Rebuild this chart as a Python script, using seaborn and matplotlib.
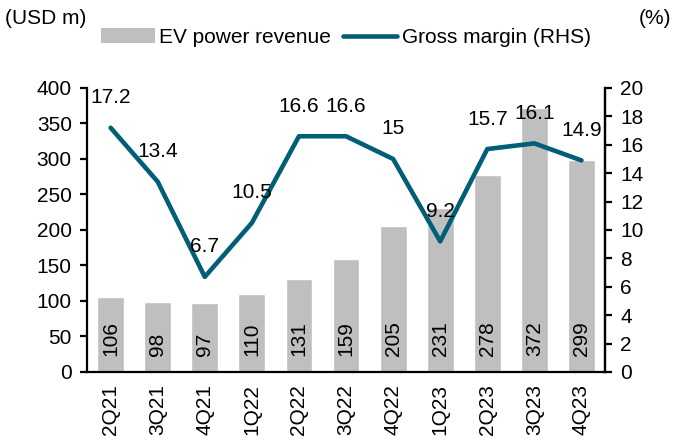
import numpy as np
import pandas as pd
import seaborn as sns
import matplotlib.pyplot as plt
from matplotlib.patches import Patch
from matplotlib.lines import Line2D

# chart data
quarters = ["2Q21", "3Q21", "4Q21", "1Q22", "2Q22", "3Q22", "4Q22",
            "1Q23", "2Q23", "3Q23", "4Q23"]
ev_revenue = [106, 98, 97, 110, 131, 159, 205, 231, 278, 372, 299]
gross_margin = [17.2, 13.4, 6.7, 10.5, 16.6, 16.6, 15.0, 9.2, 15.7, 16.1, 14.9]
margin_labels = ["17.2", "13.4", "6.7", "10.5", "16.6", "16.6", "15",
                 "9.2", "15.7", "16.1", "14.9"]

df = pd.DataFrame({"quarter": quarters, "revenue": ev_revenue, "margin": gross_margin})

bar_color = "#BFBFBF"
line_color = "#005E76"
fs = 15

sns.set_style("white")
plt.rcParams["font.family"] = ["Liberation Sans", "DejaVu Sans"]
plt.rcParams["axes.linewidth"] = 1.6
plt.rcParams["text.color"] = "black"
plt.rcParams["xtick.color"] = "black"
plt.rcParams["ytick.color"] = "black"

fig = plt.figure(figsize=(6.75, 4.41), dpi=100)
ax = fig.add_axes([0.129, 0.1565, 0.7673, 0.644])

sns.barplot(data=df, x="quarter", y="revenue", color=bar_color, width=0.57,
            saturation=1, ax=ax, zorder=2)

# revenue labels inside the bars
for i, v in enumerate(ev_revenue):
    ax.annotate(str(v), (i, 0), xytext=(0, 16), textcoords="offset pixels",
                rotation=90, ha="center", va="bottom", fontsize=fs, color="black")

ax.set_ylim(0, 400)
ax.set_yticks(np.arange(0, 401, 50))
ax.set_xlim(-0.5, len(quarters) - 0.5)
ax.set_xlabel("")
ax.set_ylabel("")

# x ticks sit between categories
ax.set_xticks(np.arange(len(quarters)))
ax.set_xticklabels(quarters, rotation=90, fontsize=fs)
ax.set_xticks(np.arange(-0.5, len(quarters)), minor=True)
ax.tick_params(axis="x", which="major", length=0, pad=9)
ax.tick_params(axis="x", which="minor", length=5, width=1.6, direction="out")
ax.tick_params(axis="y", length=5, width=1.6, direction="out", labelsize=fs, pad=6,
               left=True)
for s in ["left", "bottom", "right"]:
    ax.spines[s].set_visible(True)
    ax.spines[s].set_color("black")
ax.spines["top"].set_visible(False)

ax2 = ax.twinx()
sns.lineplot(data=df, x="quarter", y="margin", color=line_color, linewidth=3.3,
             sort=False, ax=ax2)
for i, (v, lab) in enumerate(zip(gross_margin, margin_labels)):
    ax2.annotate(lab, (i, v), xytext=(0, 30), textcoords="offset pixels",
                 ha="center", va="center", fontsize=fs, color="black")
ax2.set_ylim(0, 20)
ax2.set_yticks(np.arange(0, 21, 2))
ax2.set_xlim(-0.5, len(quarters) - 0.5)
ax2.set_xlabel("")
ax2.set_ylabel("")
ax2.tick_params(axis="y", length=5, width=1.6, direction="out", labelsize=fs, pad=6,
                right=True)
ax2.spines["top"].set_visible(False)
ax2.spines["right"].set_color("black")
ax2.spines["left"].set_visible(False)
ax2.spines["bottom"].set_visible(False)

# legend and axis unit notes
handles = [Patch(facecolor=bar_color, edgecolor="none"),
           Line2D([0], [0], color=line_color, linewidth=3.3)]
fig.legend(handles, ["EV power revenue", "Gross margin (RHS)"], loc="center",
           bbox_to_anchor=(0.512, 0.915), ncol=2, frameon=False, fontsize=fs,
           handlelength=2.6, handletextpad=0.2, columnspacing=0.6)
fig.text(0.007, 0.958, "(USD m)", fontsize=fs, ha="left", va="center")
fig.text(0.995, 0.958, "(%)", fontsize=fs, ha="right", va="center")

fig.savefig("out.png", dpi=100)
